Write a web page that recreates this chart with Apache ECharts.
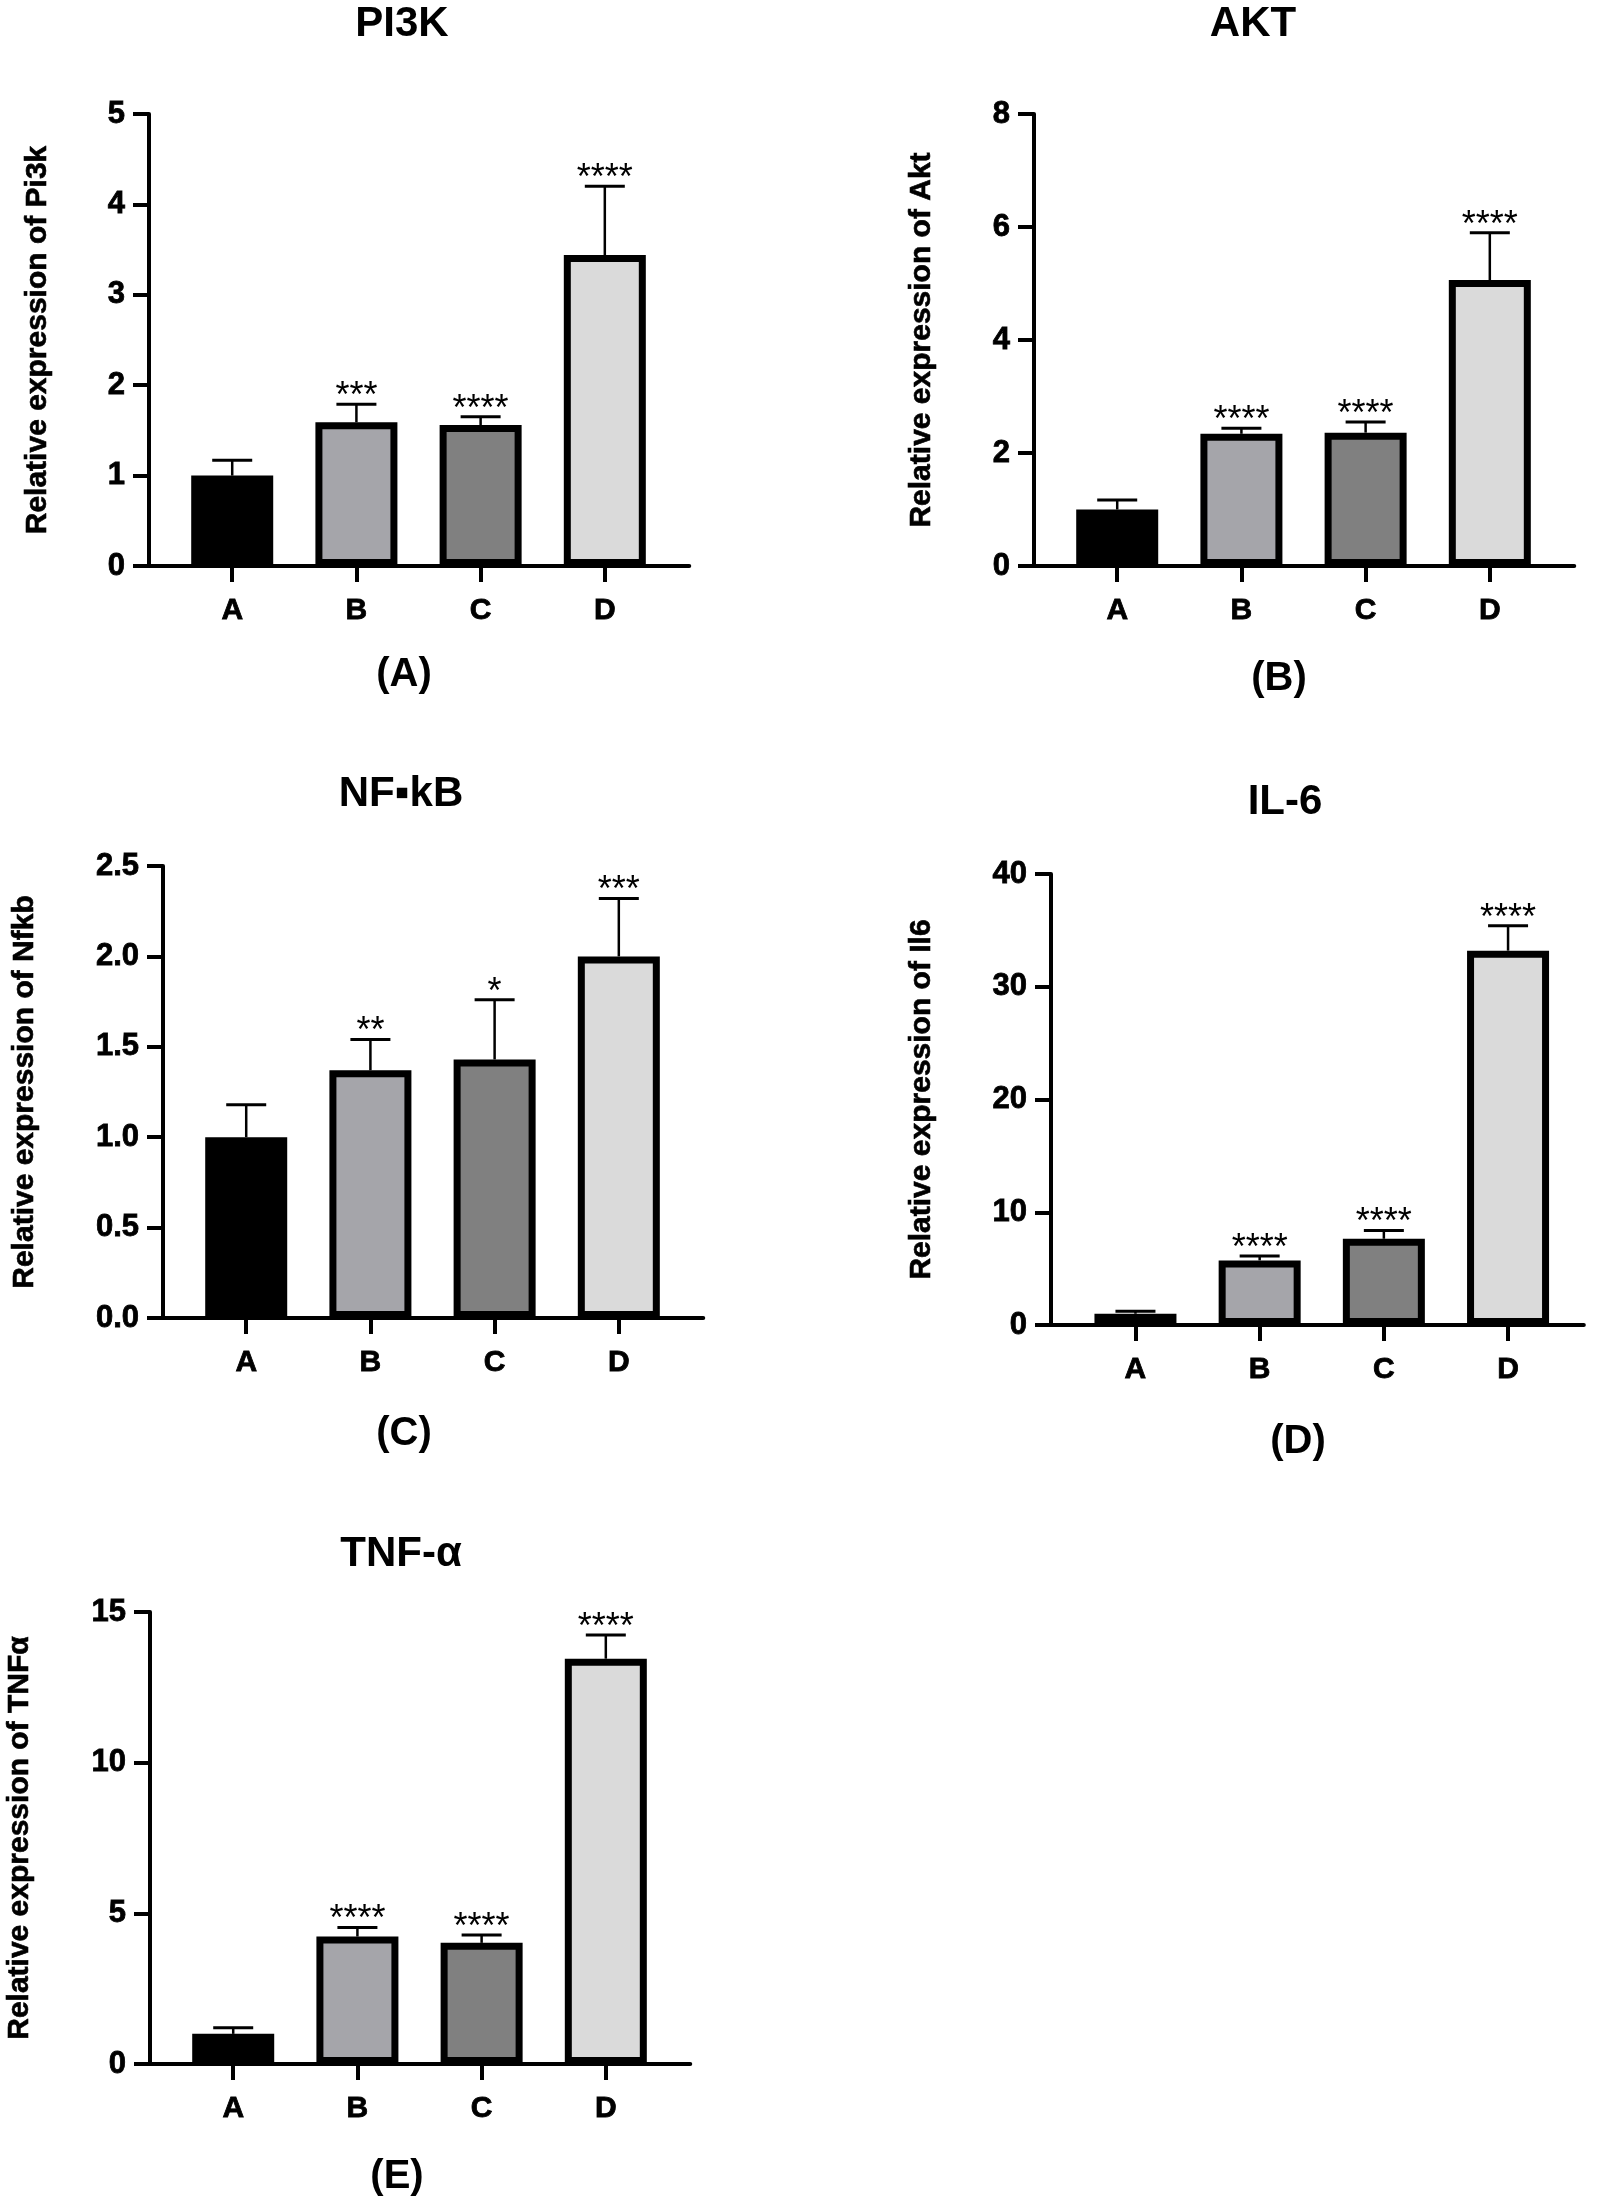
<!DOCTYPE html>
<html>
<head>
<meta charset="utf-8">
<script src="https://cdn.jsdelivr.net/npm/echarts@6/dist/echarts.min.js"></script>
<style>
html, body { margin: 0; padding: 0; background: #fff; }
#chart { width: 1600px; height: 2207px; }
</style>
</head>
<body>
<div id="chart"></div>
<script>
// groups and bar fills
var categories = ['A', 'B', 'C', 'D'];
var barColors = ['#000000', '#a5a5aa', '#808080', '#dadada'];

// mean and SD (upper error)
var pi3kMean = [1.0, 1.59, 1.56, 3.44];
var pi3kErr = [0.17, 0.20, 0.09, 0.76];
var pi3kStars = ['', '***', '****', '****'];

var aktMean = [1.0, 2.34, 2.36, 5.06];
var aktErr = [0.17, 0.10, 0.19, 0.84];
var aktStars = ['', '****', '****', '****'];

var nfkbMean = [1.0, 1.37, 1.43, 2.0];
var nfkbErr = [0.18, 0.17, 0.33, 0.32];
var nfkbStars = ['', '**', '*', '***'];

var il6Mean = [1.0, 5.73, 7.65, 33.2];
var il6Err = [0.23, 0.40, 0.73, 2.2];
var il6Stars = ['', '****', '****', '****'];

var tnfMean = [1.0, 4.23, 4.02, 13.45];
var tnfErr = [0.20, 0.30, 0.26, 0.79];
var tnfStars = ['', '****', '****', '****'];

var panelTitles = ['PI3K', 'AKT', 'NF\u25aakB', 'IL-6', 'TNF-\u03b1'];
var panelTags = ['(A)', '(B)', '(C)', '(D)', '(E)'];
var yNames = ['Relative expression of Pi3k', 'Relative expression of Akt',
    'Relative expression of Nfkb', 'Relative expression of Il6', 'Relative expression of TNF\u03b1'];
var yMax = [5, 8, 2.5, 40, 15];
var yStep = [1, 2, 0.5, 10, 5];
var yDecimals = [0, 0, 1, 0, 0];

var means = [pi3kMean, aktMean, nfkbMean, il6Mean, tnfMean];
var errs = [pi3kErr, aktErr, nfkbErr, il6Err, tnfErr];
var stars = [pi3kStars, aktStars, nfkbStars, il6Stars, tnfStars];

// layout of the five panels (pixels)
var gridLeft = [149, 1034, 163, 1051, 150];
var gridTop = [114, 114, 866, 874, 1612];
var gridHeight = [452, 452, 452, 451, 452];
var xMin = [-0.67, -0.67, -0.67, -0.68, -0.67];
var xMax = [3.68, 3.68, 3.68, 3.61, 3.68];
var bandPx = 124.2;
var nameGap = [96, 97, 123, 114, 115];
var titlePos = [[402, 24], [1253, 24], [401, 794], [1285, 802], [401, 1554]];
var tagPos = [[404, 675], [1279, 679], [404, 1434], [1298, 1442], [397, 2177]];

var FONT = '"Liberation Sans", Arial, sans-serif';

function barRenderer(p) {
    return function (params, api) {
        var i = api.value(0);
        var base = api.coord([i, 0]);
        var top = api.coord([i, api.value(1)]);
        var cap = api.coord([i, api.value(1) + api.value(2)]);
        var half = 41, bw = 7;
        return {
            type: 'group',
            children: [
                {
                    type: 'line',
                    shape: { x1: top[0], y1: top[1], x2: cap[0], y2: cap[1] },
                    style: { stroke: '#000', lineWidth: 2.5 }
                },
                {
                    type: 'line',
                    shape: { x1: cap[0] - 20, y1: cap[1], x2: cap[0] + 20, y2: cap[1] },
                    style: { stroke: '#000', lineWidth: 3 }
                },
                {
                    type: 'rect',
                    shape: {
                        x: top[0] - half + bw / 2, y: top[1] + bw / 2,
                        width: 2 * half - bw, height: base[1] - top[1] - bw
                    },
                    style: { fill: barColors[i], stroke: '#000', lineWidth: bw }
                },
                {
                    type: 'text',
                    x: cap[0], y: cap[1] - 7,
                    style: {
                        text: stars[p][i], fill: '#000',
                        font: '36px ' + FONT,
                        align: 'center', verticalAlign: 'middle'
                    }
                }
            ]
        };
    };
}

var grids = [], xAxes = [], yAxes = [], series = [], graphics = [];
for (var p = 0; p < 5; p++) {
    grids.push({
        left: gridLeft[p], top: gridTop[p],
        width: (xMax[p] - xMin[p]) * bandPx, height: gridHeight[p]
    });
    xAxes.push({
        gridIndex: p,
        type: 'value',
        min: xMin[p],
        max: xMax[p],
        axisLine: { onZero: false, lineStyle: { color: '#000', width: 4 } },
        axisTick: { customValues: [0, 1, 2, 3], length: 16, lineStyle: { color: '#000', width: 4 } },
        axisLabel: {
            customValues: [0, 1, 2, 3],
            formatter: function (v) { return categories[Math.round(v)]; },
            margin: 30,
            color: '#000', fontSize: 30, fontWeight: 'bold', fontFamily: FONT,
            textBorderColor: '#000', textBorderWidth: 0.8
        },
        splitLine: { show: false }
    });
    yAxes.push({
        gridIndex: p,
        type: 'value',
        min: 0,
        max: yMax[p],
        interval: yStep[p],
        name: yNames[p],
        nameLocation: 'middle',
        nameGap: nameGap[p],
        nameTextStyle: {
            color: '#000', fontSize: 30, fontWeight: 'bold', fontFamily: FONT,
            textBorderColor: '#000', textBorderWidth: 0.6
        },
        axisLine: { show: true, onZero: false, lineStyle: { color: '#000', width: 4 } },
        axisTick: { show: true, length: 16, lineStyle: { color: '#000', width: 4 } },
        axisLabel: {
            formatter: (function (d) { return function (v) { return v.toFixed(d); }; })(yDecimals[p]),
            margin: 24,
            color: '#000', fontSize: 31, fontWeight: 'bold', fontFamily: FONT,
            textBorderColor: '#000', textBorderWidth: 0.8
        },
        splitLine: { show: false }
    });
    var data = [];
    for (var i = 0; i < categories.length; i++) {
        data.push([i, means[p][i], errs[p][i]]);
    }
    series.push({
        type: 'custom',
        xAxisIndex: p,
        yAxisIndex: p,
        clip: false,
        renderItem: barRenderer(p),
        encode: { x: 0, y: 1 },
        data: data
    });
    graphics.push({
        type: 'text', x: titlePos[p][0], y: titlePos[p][1],
        style: { text: panelTitles[p], fill: '#000', font: 'bold 42px ' + FONT, align: 'center', verticalAlign: 'middle' }
    });
    graphics.push({
        type: 'text', x: tagPos[p][0], y: tagPos[p][1],
        style: { text: panelTags[p], fill: '#000', font: 'bold 40px ' + FONT, align: 'center', verticalAlign: 'middle' }
    });
}

var myChart = echarts.init(document.getElementById('chart'));
var option = {
    backgroundColor: '#fff',
    animation: false,
    grid: grids,
    xAxis: xAxes,
    yAxis: yAxes,
    series: series,
    graphic: graphics
};
myChart.setOption(option);
</script>
</body>
</html>
